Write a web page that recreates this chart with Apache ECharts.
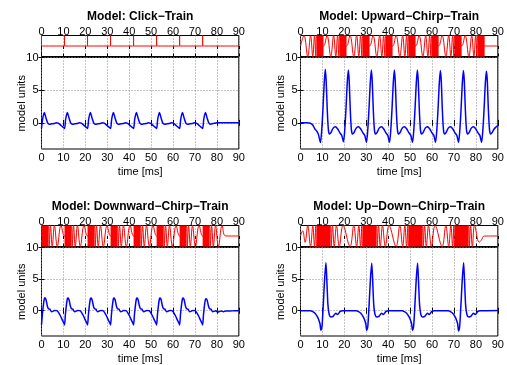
<!DOCTYPE html>
<html>
<head>
<meta charset="utf-8">
<script src="https://cdn.jsdelivr.net/npm/echarts@6/dist/echarts.min.js"></script>
<style>
  html, body { margin: 0; padding: 0; background: #fff; }
  #chart { width: 507px; height: 365px; }
</style>
</head>
<body>
<div id="chart"></div>
<script>
// ---------- data (time in ms) ----------
const panelTitles = [
  'Model: Click\u2212Train',
  'Model: Upward\u2212Chirp\u2212Train',
  'Model: Downward\u2212Chirp\u2212Train',
  'Model: Up\u2212Down\u2212Chirp\u2212Train'
];
const yTicks = [0, 5, 10];

// click train: click onsets
const clickTimes = [0, 10.5, 21, 31.5, 42, 52.5, 63, 73.5];

const clickResp = [
  [0,-0.85],[0.5,0.55],[1.3,1.6],[2,0.8],[2.8,0],[3.6,-0.2],[4.7,-0.15],[5.8,-0.1],[6.8,0],[7.6,-0.05],[8.6,-0.3],[9.6,-0.6],
  [10.5,-0.85],[11,0.55],[11.8,1.6],[12.5,0.8],[13.3,0],[14.1,-0.2],[15.2,-0.15],[16.3,-0.1],[17.3,0],[18.1,-0.05],[19.1,-0.3],[20.1,-0.6],
  [21,-0.85],[21.5,0.55],[22.3,1.6],[23,0.8],[23.8,0],[24.6,-0.2],[25.7,-0.15],[26.8,-0.1],[27.8,0],[28.6,-0.05],[29.6,-0.3],[30.6,-0.6],
  [31.5,-0.85],[32,0.55],[32.8,1.6],[33.5,0.8],[34.3,0],[35.1,-0.2],[36.2,-0.15],[37.3,-0.1],[38.3,0],[39.1,-0.05],[40.1,-0.3],[41.1,-0.6],
  [42,-0.85],[42.5,0.55],[43.3,1.6],[44,0.8],[44.8,0],[45.6,-0.2],[46.7,-0.15],[47.8,-0.1],[48.8,0],[49.6,-0.05],[50.6,-0.3],[51.6,-0.6],
  [52.5,-0.85],[53,0.55],[53.8,1.6],[54.5,0.8],[55.3,0],[56.1,-0.2],[57.2,-0.15],[58.3,-0.1],[59.3,0],[60.1,-0.05],[61.1,-0.3],[62.1,-0.6],
  [63,-0.85],[63.5,0.55],[64.3,1.6],[65,0.8],[65.8,0],[66.6,-0.2],[67.7,-0.15],[68.8,-0.1],[69.8,0],[70.6,-0.05],[71.6,-0.3],[72.6,-0.6],
  [73.5,-0.85],[74,0.55],[74.8,1.6],[75.5,0.8],[76.3,0],[77.1,-0.2],[78.2,-0.1],[79.2,-0.05],[80,0],[90,0]
];

// upward chirp: turning points of the visible part, solid (dense) stretches
const upStim = [
  [0,0],[1.6,1],[3.3,-1],[4.6,1],[5.6,-1],[6.4,1],[7,-1],[7.4,1],
  [10.5,0],[12.1,1],[13.8,-1],[15.1,1],[16.1,-1],[16.9,1],[17.5,-1],[17.9,1],
  [21,0],[22.6,1],[24.3,-1],[25.6,1],[26.6,-1],[27.4,1],[28,-1],[28.4,1],
  [31.5,0],[33.1,1],[34.8,-1],[36.1,1],[37.1,-1],[37.9,1],[38.5,-1],[38.9,1],
  [42,0],[43.6,1],[45.3,-1],[46.6,1],[47.6,-1],[48.4,1],[49,-1],[49.4,1],
  [52.5,0],[54.1,1],[55.8,-1],[57.1,1],[58.1,-1],[58.9,1],[59.5,-1],[59.9,1],
  [63,0],[64.6,1],[66.3,-1],[67.6,1],[68.6,-1],[69.4,1],[70,-1],[70.4,1],
  [73.5,0],[75.1,1],[76.8,-1],[78.1,1],[79.1,-1],[79.9,1],[80.5,-1],[80.9,1],
  [84,0],[90,0]
];
const upSolid = [[7.4,10.5],[17.9,21],[28.4,31.5],[38.9,42],[49.4,52.5],[59.9,63],[70.4,73.5],[80.9,84]];

const upResp = [
  [0,0],[3,0],[4.5,-0.05],[5.5,-0.3],[6.5,-0.9],[7.5,-1.3],[8.2,-1.8],
  [9.1,-3.0],[9.7,-1.0],[10.3,2.5],[10.8,6.0],[11.3,8.2],[11.7,6.5],[12.2,2.0],[12.7,-1.0],[13.2,-1.7],[13.9,-1.5],[14.9,-0.8],[15.9,-0.6],[16.9,-0.9],[17.9,-1.5],[18.8,-1.9],
  [19.6,-2.9],[20.2,-1.0],[20.8,2.5],[21.3,6.0],[21.8,8.1],[22.2,6.5],[22.7,2.0],[23.2,-1.0],[23.7,-1.7],[24.4,-1.5],[25.4,-0.8],[26.4,-0.6],[27.4,-0.9],[28.4,-1.5],[29.3,-1.9],
  [30.1,-3.0],[30.7,-1.0],[31.3,2.5],[31.8,6.0],[32.3,8.1],[32.7,6.5],[33.2,2.0],[33.7,-1.0],[34.2,-1.7],[34.9,-1.5],[35.9,-0.8],[36.9,-0.6],[37.9,-0.9],[38.9,-1.5],[39.8,-1.9],
  [40.6,-3.0],[41.2,-1.0],[41.8,2.5],[42.3,6.0],[42.8,8.1],[43.2,6.5],[43.7,2.0],[44.2,-1.0],[44.7,-1.7],[45.4,-1.5],[46.4,-0.8],[47.4,-0.6],[48.4,-0.9],[49.4,-1.5],[50.3,-1.9],
  [51.1,-3.0],[51.7,-1.0],[52.3,2.5],[52.8,6.0],[53.3,8.1],[53.7,6.5],[54.2,2.0],[54.7,-1.0],[55.2,-1.7],[55.9,-1.5],[56.9,-0.8],[57.9,-0.6],[58.9,-0.9],[59.9,-1.5],[60.8,-1.9],
  [61.6,-3.0],[62.2,-1.0],[62.8,2.5],[63.3,6.0],[63.8,8.0],[64.2,6.5],[64.7,2.0],[65.2,-1.0],[65.7,-1.7],[66.4,-1.5],[67.4,-0.8],[68.4,-0.6],[69.4,-0.9],[70.4,-1.5],[71.3,-1.9],
  [72.1,-3.0],[72.7,-1.0],[73.3,2.5],[73.8,6.0],[74.3,8.0],[74.7,6.5],[75.2,2.0],[75.7,-1.0],[76.2,-1.7],[76.9,-1.5],[77.9,-0.8],[78.9,-0.6],[79.9,-0.9],[80.9,-1.5],[81.8,-1.9],
  [82.6,-3.0],[83.2,-1.0],[83.8,2.5],[84.3,6.0],[84.8,7.9],[85.2,6.5],[85.7,2.0],[86.2,-1.0],[86.7,-1.7],[87.4,-1.5],[88.4,-0.9],[89.3,-0.6],[90,-0.4]
];

// downward chirp
const downStim = [
  [0,0],[3.1,1],[3.5,-1],[4.1,1],[4.9,-1],[5.9,1],[7.2,-1],[8.9,1],
  [10.5,0],[13.6,1],[14,-1],[14.6,1],[15.4,-1],[16.4,1],[17.7,-1],[19.4,1],
  [21,0],[24.1,1],[24.5,-1],[25.1,1],[25.9,-1],[26.9,1],[28.2,-1],[29.9,1],
  [31.5,0],[34.6,1],[35,-1],[35.6,1],[36.4,-1],[37.4,1],[38.7,-1],[40.4,1],
  [42,0],[45.1,1],[45.5,-1],[46.1,1],[46.9,-1],[47.9,1],[49.2,-1],[50.9,1],
  [52.5,0],[55.6,1],[56,-1],[56.6,1],[57.4,-1],[58.4,1],[59.7,-1],[61.4,1],
  [63,0],[66.1,1],[66.5,-1],[67.1,1],[67.9,-1],[68.9,1],[70.2,-1],[71.9,1],
  [73.5,0],[76.6,1],[77,-1],[77.6,1],[78.4,-1],[79.4,1],[80.7,-1],[82.4,1],
  [84,0],[90,0]
];
const downSolid = [[0,3.1],[10.5,13.6],[21,24.1],[31.5,34.6],[42,45.1],[52.5,55.6],[63,66.1],[73.5,76.6]];

const downResp = [
  [0,-2.2],[0.4,-0.6],[0.9,1.0],[1.3,1.9],[1.6,2.05],[2.1,1.7],[2.7,0.7],[3.2,0.3],[3.8,0.25],[4.5,-0.15],[5.2,-0.1],[6,0.05],[7,0],[7.8,-0.3],[8.6,-0.8],[9.4,-1.4],[10.1,-1.9],
  [10.5,-2.25],[10.9,-0.6],[11.4,1.0],[11.8,1.9],[12.1,2.0],[12.6,1.7],[13.2,0.7],[13.7,0.3],[14.3,0.25],[15,-0.15],[15.7,-0.1],[16.5,0.05],[17.5,0],[18.3,-0.3],[19.1,-0.8],[19.9,-1.4],[20.6,-1.9],
  [21,-2.25],[21.4,-0.6],[21.9,1.0],[22.3,1.9],[22.6,2.0],[23.1,1.7],[23.7,0.7],[24.2,0.3],[24.8,0.25],[25.5,-0.15],[26.2,-0.1],[27,0.05],[28,0],[28.8,-0.3],[29.6,-0.8],[30.4,-1.4],[31.1,-1.9],
  [31.5,-2.25],[31.9,-0.6],[32.4,1.0],[32.8,1.9],[33.1,2.0],[33.6,1.7],[34.2,0.7],[34.7,0.3],[35.3,0.25],[36,-0.15],[36.7,-0.1],[37.5,0.05],[38.5,0],[39.3,-0.3],[40.1,-0.8],[40.9,-1.4],[41.6,-1.9],
  [42,-2.25],[42.4,-0.6],[42.9,1.0],[43.3,1.9],[43.6,2.0],[44.1,1.7],[44.7,0.7],[45.2,0.3],[45.8,0.25],[46.5,-0.15],[47.2,-0.1],[48,0.05],[49,0],[49.8,-0.3],[50.6,-0.8],[51.4,-1.4],[52.1,-1.9],
  [52.5,-2.25],[52.9,-0.6],[53.4,1.0],[53.8,1.9],[54.1,2.0],[54.6,1.7],[55.2,0.7],[55.7,0.3],[56.3,0.25],[57,-0.15],[57.7,-0.1],[58.5,0.05],[59.5,0],[60.3,-0.3],[61.1,-0.8],[61.9,-1.4],[62.6,-1.9],
  [63,-2.25],[63.4,-0.6],[63.9,1.0],[64.3,1.9],[64.6,2.0],[65.1,1.7],[65.7,0.7],[66.2,0.3],[66.8,0.25],[67.5,-0.15],[68.2,-0.1],[69,0.05],[70,0],[70.8,-0.3],[71.6,-0.8],[72.4,-1.4],[73.1,-1.9],
  [73.5,-2.25],[73.9,-0.6],[74.4,1.0],[74.8,1.8],[75.1,1.9],[75.6,1.6],[76.2,0.7],[76.7,0.3],[77.3,0.25],[78,-0.15],[78.7,-0.1],[79.5,0],[80.2,-0.2],[81,-0.15],[82,-0.05],[83,-0.15],[84,-0.05],[86,-0.05],[88,0],[90,0]
];

// up-down chirp (up then down, 21 ms per pair)
const udStim = [
  [0,0],[1,0.5],[2.1,-0.6],[3.3,1],[4.6,-1],[5.6,1],[6.4,-1],[7,1],[7.4,-1],
  [13.6,1],[14,-1],[14.6,1],[15.4,-1],[16.4,1],[17.7,-1],[19.4,1],
  [22.6,-1],[24.3,1],[25.6,-1],[26.6,1],[27.4,-1],[28,1],[28.4,-1],
  [34.6,1],[35,-1],[35.6,1],[36.4,-1],[37.4,1],[38.7,-1],[40.4,1],
  [43.6,-1],[45.3,1],[46.6,-1],[47.6,1],[48.4,-1],[49,1],[49.4,-1],
  [55.6,1],[56,-1],[56.6,1],[57.4,-1],[58.4,1],[59.7,-1],[61.4,1],
  [64.6,-1],[66.3,1],[67.6,-1],[68.6,1],[69.4,-1],[70,1],[70.4,-1],
  [76.6,1],[77,-1],[77.6,1],[78.4,-1],[79.4,1],[81.5,-0.6],[82.5,-0.4],[83.8,0],[90,0]
];
const udSolid = [[7.4,13.6],[28.4,34.6],[49.4,55.6],[70.4,76.6]];

const udResp = [
  [0,0],[4.5,0],
  [5.6,-0.15],[6.6,-0.4],[7.6,-0.9],[8.4,-1.5],[8.9,-2.1],[9.3,-3.1],[9.8,-2.5],[10.4,1.0],[11,5.0],[11.6,7.6],[12,5.0],[12.5,1.0],[13.1,-0.6],[13.9,-1.0],[14.9,-0.9],[16.1,-0.4],[16.9,-0.6],[18.1,-0.1],[19.3,0],[25.5,0],
  [26.5,-0.15],[27.5,-0.4],[28.5,-0.9],[29.3,-1.5],[29.8,-2.1],[30.2,-3.1],[30.7,-2.5],[31.3,1.0],[31.9,5.0],[32.5,7.5],[32.9,5.0],[33.4,1.0],[34,-0.6],[34.8,-1.0],[35.8,-0.9],[37,-0.4],[37.8,-0.6],[39,-0.1],[40.2,0],[46.4,0],
  [47.4,-0.15],[48.4,-0.4],[49.4,-0.9],[50.2,-1.5],[50.7,-2.1],[51.1,-3.1],[51.6,-2.5],[52.2,1.0],[52.8,5.0],[53.4,7.5],[53.8,5.0],[54.3,1.0],[54.9,-0.6],[55.7,-1.0],[56.7,-0.9],[57.9,-0.4],[58.7,-0.6],[59.9,-0.1],[61.1,0],[67.4,0],
  [68.4,-0.15],[69.4,-0.4],[70.4,-0.9],[71.2,-1.5],[71.7,-2.1],[72.1,-3.2],[72.6,-2.5],[73.2,1.0],[73.8,5.0],[74.4,7.6],[74.8,5.0],[75.3,1.0],[75.9,-0.6],[76.7,-1.0],[77.7,-0.9],[78.9,-0.4],[79.7,-0.6],[80.9,-0.1],[82.1,0],[90,0.05]
];

// click stimulus as vertical impulses on a flat line
const clickStim = [[0, 0]].concat(
  clickTimes.flatMap((t) => [[t, 0], [t, 1], [t, 0]]),
  [[90, 0]]
);

// ---------- layout ----------
const FONT = '"Liberation Sans", Arial, Helvetica, sans-serif';
const W = 197.3;
const STRIP_H = 21;
const panels = [
  { left: 41.5, top: 35.5, respH: 92.5, stim: clickStim, solid: [], resp: clickResp },
  { left: 300.5, top: 35.5, respH: 92.5, stim: upStim, solid: upSolid, resp: upResp },
  { left: 41.5, top: 225.5, respH: 93, stim: downStim, solid: downSolid, resp: downResp },
  { left: 300.5, top: 225.5, respH: 93, stim: udStim, solid: udSolid, resp: udResp },
];

const tick = { show: true, inside: true, length: 3, lineStyle: { color: '#000', width: 1 } };
const dotted = { show: true, lineStyle: { color: '#8a8a8a', type: [1, 2], width: 1 } };
const label = { color: '#000', fontSize: 11, fontFamily: FONT };
const noLine = { show: false };

const grid = [], xAxis = [], yAxis = [], series = [], title = [];

panels.forEach((p, i) => {
  const gs = grid.length;
  grid.push({ left: p.left, top: p.top, width: W, height: STRIP_H, show: true, borderColor: '#000', borderWidth: 1 });
  grid.push({ left: p.left, top: p.top + STRIP_H + 1, width: W, height: p.respH - 1, show: true, borderColor: '#000', borderWidth: 1 });

  title.push({
    text: panelTitles[i], left: p.left + W / 2, top: p.top - 25, textAlign: 'center', padding: 0,
    textStyle: { fontSize: 12, fontWeight: 'bold', color: '#000', fontFamily: FONT }
  });

  // stimulus strip
  const sx = xAxis.length;
  xAxis.push({ gridIndex: gs, type: 'value', min: 0, max: 90, interval: 10, position: 'top',
    axisLine: noLine, axisTick: tick, axisLabel: { ...label, margin: -1.5 }, splitLine: dotted });
  xAxis.push({ gridIndex: gs, type: 'value', min: 0, max: 90, interval: 10, position: 'bottom',
    axisLine: noLine, axisTick: tick, axisLabel: { show: false }, splitLine: { show: false } });
  const sy = yAxis.length;
  yAxis.push({ gridIndex: gs, type: 'value', min: -1, max: 1, axisLine: noLine, axisTick: { show: false },
    axisLabel: { show: false }, splitLine: { show: false } });

  // response
  const rx = xAxis.length;
  xAxis.push({ gridIndex: gs + 1, type: 'value', min: 0, max: 90, interval: 10, position: 'bottom',
    name: 'time [ms]', nameLocation: 'middle', nameGap: 17, nameMoveOverlap: false,
    nameTextStyle: { color: '#000', fontSize: 11, fontFamily: FONT },
    axisLine: noLine, axisTick: tick, axisLabel: { ...label, margin: 3 }, splitLine: dotted });
  xAxis.push({ gridIndex: gs + 1, type: 'value', min: 0, max: 90, interval: 10, position: 'top',
    axisLine: noLine, axisTick: tick, axisLabel: { show: false }, splitLine: { show: false } });
  const ry = yAxis.length;
  yAxis.push({ gridIndex: gs + 1, type: 'value', min: -4, max: 10, position: 'left',
    name: 'model units', nameLocation: 'middle', nameGap: 14, nameMoveOverlap: false,
    nameTextStyle: { color: '#000', fontSize: 11, fontFamily: FONT },
    axisLine: noLine,
    axisTick: { ...tick, customValues: yTicks },
    axisLabel: { ...label, margin: 3, customValues: yTicks },
    splitLine: dotted });
  yAxis.push({ gridIndex: gs + 1, type: 'value', min: -4, max: 10, position: 'right',
    axisLine: noLine, axisTick: { ...tick, customValues: yTicks }, axisLabel: { show: false }, splitLine: { show: false } });

  series.push({
    type: 'line', xAxisIndex: sx, yAxisIndex: sy, data: p.stim, showSymbol: false, symbol: 'none',
    smooth: 0.4, lineStyle: { color: '#ff0000', width: 1 }, itemStyle: { color: '#ff0000' },
    markArea: p.solid.length ? {
      silent: true, itemStyle: { color: '#ff0000', opacity: 1 },
      data: p.solid.map(([a, b]) => [{ xAxis: a }, { xAxis: b }])
    } : undefined
  });
  series.push({
    type: 'line', xAxisIndex: rx, yAxisIndex: ry, data: p.resp, showSymbol: false, symbol: 'none',
    smooth: 0.25, lineStyle: { color: '#0000ff', width: 1.5 }, itemStyle: { color: '#0000ff' }
  });
});

const chart = echarts.init(document.getElementById('chart'), null, { renderer: 'canvas' });
chart.setOption({
  backgroundColor: '#fff',
  animation: false,
  textStyle: { fontFamily: FONT },
  title, grid, xAxis, yAxis, series
});
</script>
</body>
</html>
